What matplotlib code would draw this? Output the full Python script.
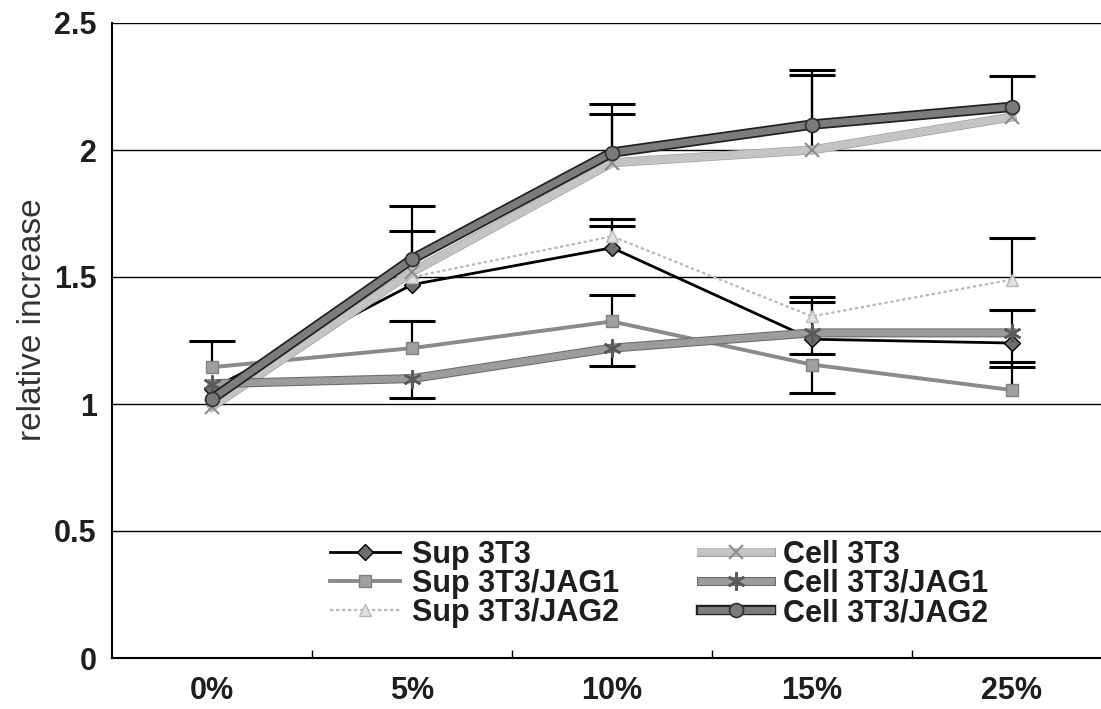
import matplotlib

matplotlib.use("Agg")

import matplotlib.patheffects as pe
import matplotlib.pyplot as plt
import numpy as np

plt.rcParams["font.family"] = ["Liberation Sans", "DejaVu Sans"]

categories = ["0%", "5%", "10%", "15%", "25%"]

sup_3t3 = [1.06, 1.47, 1.615, 1.255, 1.24]
sup_jag1 = [1.145, 1.22, 1.325, 1.155, 1.055]
sup_jag2 = [1.03, 1.50, 1.66, 1.345, 1.49]
cell_3t3 = [0.99, 1.52, 1.95, 2.00, 2.13]
cell_jag1 = [1.08, 1.10, 1.22, 1.28, 1.28]
cell_jag2 = [1.02, 1.57, 1.99, 2.10, 2.17]

# signed error: positive drawn upward, negative downward, 0 = none visible
sup_3t3_err = [0, 0.21, 0.085, 0.145, -0.095]
sup_jag1_err = [0.105, 0.105, 0.105, -0.11, 0.11]
sup_jag2_err = [0, 0, 0.07, 0.075, 0.165]
cell_3t3_err = [0, 0, 0.19, 0.295, 0]
cell_jag1_err = [0, -0.075, -0.07, -0.085, 0.09]
cell_jag2_err = [0, 0.21, 0.19, 0.215, 0.12]

fig = plt.figure(figsize=(11.01, 7.09), dpi=100)
ax = fig.add_axes([112 / 1101, (709 - 658) / 709, 1000 / 1101, 635 / 709])

x = np.arange(len(categories))

# (label, values, errors, line style, marker style)
series = [
    ("Sup 3T3", sup_3t3, sup_3t3_err,
     dict(color="black", lw=2),
     dict(marker="D", ms=8, mfc="#6e6e6e", mec="black", mew=1)),
    ("Sup 3T3/JAG1", sup_jag1, sup_jag1_err,
     dict(color="#8a8a8a", lw=2.8),
     dict(marker="s", ms=8, mfc="#a0a0a0", mec="#808080", mew=1)),
    ("Sup 3T3/JAG2", sup_jag2, sup_jag2_err,
     dict(color="#b8b8b8", lw=1.6, ls=(0, (1.5, 1.2))),
     dict(marker="^", ms=9, mfc="#e0e0e0", mec="#b8b8b8", mew=1)),
    ("Cell 3T3", cell_3t3, cell_3t3_err,
     dict(color="#c4c4c4", lw=5.5,
          path_effects=[pe.Stroke(linewidth=6.5, foreground="#a0a0a0"), pe.Normal()]),
     dict(marker="x", ms=10, mew=1.5, mec="#8c8c8c")),
    ("Cell 3T3/JAG1", cell_jag1, cell_jag1_err,
     dict(color="#9c9c9c", lw=5,
          path_effects=[pe.Stroke(linewidth=6.5, foreground="#6a6a6a"), pe.Normal()]),
     dict(marker=(6, 2, 0), ms=13, mew=1.8, mec="#5a5a5a")),
    ("Cell 3T3/JAG2", cell_jag2, cell_jag2_err,
     dict(color="#7c7c7c", lw=5,
          path_effects=[pe.Stroke(linewidth=7.5, foreground="#202020"), pe.Normal()]),
     dict(marker="o", ms=10, mfc="#7a7a7a", mec="#303030", mew=1.2)),
]

cap = 0.115
for label, vals, errs, lstyle, mstyle in series:
    vals = np.asarray(vals)
    errs = np.asarray(errs)
    tips = vals + errs
    has = errs != 0
    ax.vlines(x[has], vals[has], tips[has], color="black", lw=1.6, zorder=2)
    ax.hlines(tips[has], x[has] - cap, x[has] + cap, color="black", lw=2.2, zorder=2)

handles = []
for i, (label, vals, errs, lstyle, mstyle) in enumerate(series):
    ln, = ax.plot(x, vals, zorder=3 + i * 0.1, **lstyle)
    mk, = ax.plot(x, vals, ls="none", zorder=3.05 + i * 0.1, **mstyle)
    handles.append((ln, mk))
labels = [s[0] for s in series]

ax.set_xlim(-0.5, len(categories) - 0.5)
ax.set_ylim(0, 2.5)
ax.set_yticks([0, 0.5, 1, 1.5, 2, 2.5])
ax.set_yticklabels(["0", "0.5", "1", "1.5", "2", "2.5"])
ax.grid(axis="y", color="black", lw=1)
ax.set_axisbelow(True)

ax.set_xticks(x)
ax.set_xticklabels(categories)
ax.set_xticks(x[:-1] + 0.5, minor=True)
ax.tick_params(axis="x", which="major", length=0, pad=13, labelsize=22)
ax.tick_params(axis="x", which="minor", direction="in", length=6, width=1)
ax.tick_params(axis="y", length=0, pad=11, labelsize=22)
for lab in ax.get_xticklabels() + ax.get_yticklabels():
    lab.set_fontweight("bold")
    lab.set_color("#1e1e1e")

for side in ("top", "right"):
    ax.spines[side].set_visible(False)
ax.spines["left"].set_linewidth(1.5)
ax.spines["bottom"].set_linewidth(1.5)

fig.text(33 / 1101, 1 - 320 / 709, "relative increase", rotation=90, ha="center", va="center",
         fontsize=24, color="#333333")

leg = ax.legend(handles, labels, loc="upper left", bbox_to_anchor=(0.218, 0.186), ncol=2,
                frameon=False, prop={"size": 22, "weight": "bold"}, handlelength=2.3,
                columnspacing=2.65, labelspacing=-0.03, handletextpad=0.4,
                borderpad=0, borderaxespad=0)
for t in leg.get_texts():
    t.set_color("#1e1e1e")

fig.savefig("out.png", dpi=100)
